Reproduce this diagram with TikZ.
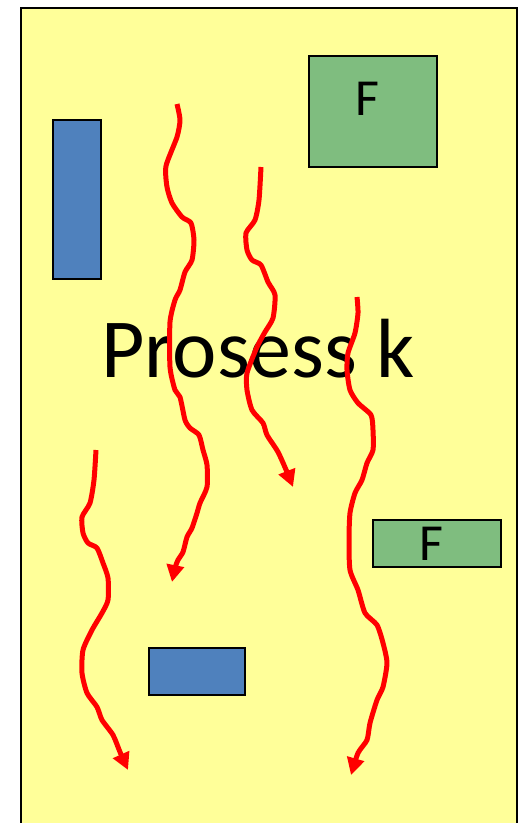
\documentclass[tikz,border=0pt]{standalone}
\usepackage{fontspec}
\setmainfont{Carlito}
\usetikzlibrary{arrows.meta}
\definecolor{bgyellow}{HTML}{FFFF99}
\definecolor{boxblue}{HTML}{4F81BD}
\definecolor{boxgreen}{HTML}{7FBD7F}
\definecolor{flowred}{HTML}{FF0000}
\tikzset{
  bluebox/.style={draw=black, line width=1.5pt, fill=boxblue},
  greenbox/.style={draw=black, line width=1.5pt, fill=boxgreen},
  flow/.style={draw=flowred, line width=5pt, line join=round, -{Triangle[length=17pt,width=17pt]}},
  flabel/.style={inner sep=0pt, font=\fontsize{52}{52}\selectfont}
}
\begin{document}
\begin{tikzpicture}[x=1pt,y=-1pt]
\useasboundingbox (0,0) rectangle (519,823);
\begin{scope}
\clip (0,0) rectangle (519,823);
\draw[line width=2pt, fill=bgyellow] (21,8) rectangle (517,835);
\end{scope}
\node[bluebox, minimum width=48pt, minimum height=159pt, inner sep=0pt] (b1) at (77,199.5) {};
\node[bluebox, minimum width=96pt, minimum height=47pt, inner sep=0pt] (b2) at (197,671.5) {};
\node[greenbox, minimum width=128pt, minimum height=111pt, inner sep=0pt] (g1) at (373,111.5) {};
\node[flabel] (f1) at (367,98.5) {F};
\node[greenbox, minimum width=128pt, minimum height=47pt, inner sep=0pt] (g2) at (437,543.5) {};
\node[flabel] (f2) at (431,543.5) {F};
\node[inner sep=0pt, anchor=base, font=\fontsize{84}{84}\selectfont] (title) at (258,377) {Prosess k};
% curve A
\draw[flow] plot[smooth, tension=0.4] coordinates {(177,104) (180,120) (177,137) (166,166) (167,187) (172,203) (182,217) (191,223) (194,240) (192,260) (185,272) (180,290) (175,300) (170,322) (170,367) (175,390) (180,397) (185,420) (190,428) (199,435) (203,450) (207,465) (207,487) (200,503) (197,513) (192,528) (187,537) (183,552) (178,560) (175,568) (172,582)};
% curve B
\draw[flow] plot[smooth, tension=0.4] coordinates {(261,167) (259,200) (255,220) (246,233) (247,250) (252,260) (261,265) (268,282) (275,295) (273,318) (265,332) (257,347) (247,373) (247,390) (252,410) (263,423) (267,435) (278,452) (287,472) (293,487)};
% curve C
\draw[flow] plot[smooth, tension=0.4] coordinates {(357,297) (358,313) (355,333) (348,353) (347,370) (350,390) (358,403) (371,415) (373,430) (373,450) (367,463) (362,480) (355,493) (350,513) (349,540) (350,570) (358,590) (365,613) (377,625) (383,643) (387,663) (383,687) (377,700) (370,723) (367,740) (358,753) (351,775)};
% curve D
\draw[flow] plot[smooth, tension=0.4] coordinates {(96,450) (94,480) (90,503) (82,517) (83,533) (88,543) (97,548) (103,563) (108,578) (108,600) (102,613) (92,630) (83,650) (82,673) (87,693) (97,707) (102,720) (113,735) (120,752) (128,770)};
\end{tikzpicture}
\end{document}
